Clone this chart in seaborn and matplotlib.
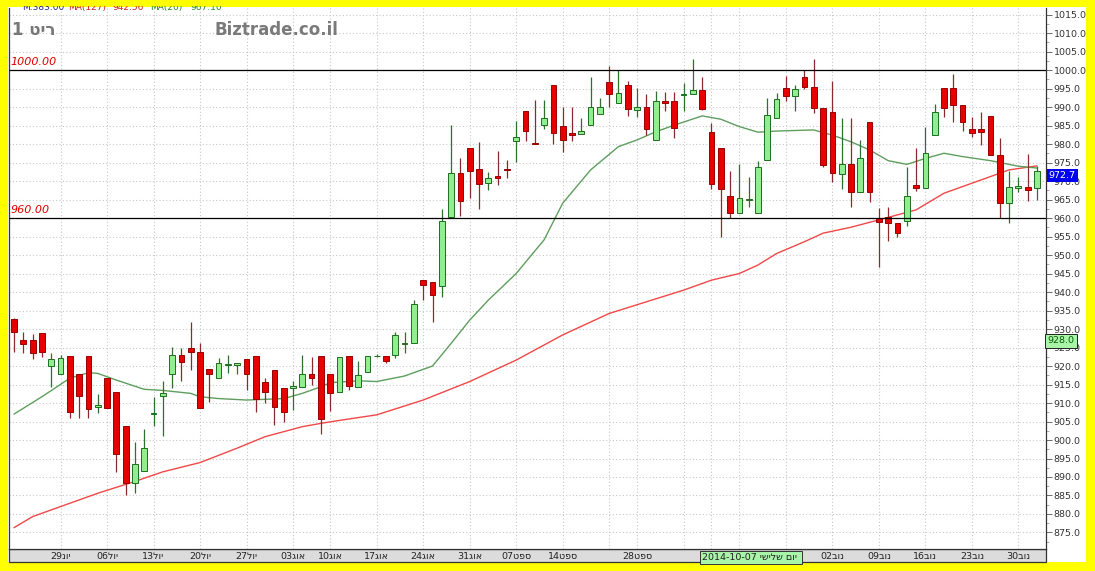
import matplotlib
matplotlib.use("Agg")
import pandas as pd
import matplotlib.pyplot as plt
from matplotlib.patches import Rectangle
from matplotlib.ticker import MultipleLocator
import seaborn as sns

# daily candles (oldest first)
opens = [932.7, 927.0, 927.0, 928.8, 920.1, 917.8, 922.8, 917.8, 922.8, 909.0,
         916.7, 912.9, 903.9, 888.3, 891.7, 907.0, 911.9, 917.8, 922.9, 924.8,
         923.9, 919.1, 916.7, 920.3, 920.2, 921.9, 922.7, 915.8, 918.9, 914.0,
         914.0, 914.4, 917.8, 922.8, 917.8, 912.9, 922.8, 914.4, 918.3, 922.6,
         922.7, 923.0, 926.0, 926.1, 943.2, 942.6, 941.6, 960.4, 972.1, 979.0,
         973.2, 969.5, 971.4, 973.3, 980.9, 989.0, 980.3, 985.1, 996.0, 984.9,
         982.9, 982.6, 985.1, 988.1, 996.7, 991.0, 996.0, 989.2, 990.1, 981.1,
         991.6, 991.6, 993.2, 993.4, 994.6, 983.2, 979.0, 966.0, 961.3, 964.9,
         961.4, 975.7, 987.1, 995.1, 993.0, 998.0, 995.5, 989.8, 988.7, 971.8,
         974.5, 966.9, 986.0, 959.9, 960.4, 958.6, 959.3, 968.9, 968.0, 982.4,
         995.1, 995.1, 990.5, 984.0, 984.0, 987.6, 977.0, 964.0, 968.0, 968.5,
         968.0]
highs = [933.0, 929.2, 928.6, 928.8, 923.4, 923.0, 922.8, 917.8, 922.8, 912.4,
         916.7, 912.9, 903.9, 899.5, 902.9, 911.5, 916.0, 925.2, 924.8, 932.0,
         926.1, 919.1, 922.1, 923.0, 920.9, 921.9, 922.7, 916.7, 918.9, 914.0,
         916.0, 922.9, 922.5, 922.8, 917.8, 922.3, 922.8, 921.4, 922.7, 923.3,
         922.7, 929.1, 929.3, 937.8, 943.2, 942.6, 962.4, 985.1, 976.1, 979.0,
         980.5, 972.5, 978.1, 975.7, 986.2, 989.0, 991.9, 991.9, 996.0, 989.9,
         989.9, 986.9, 998.0, 992.3, 1001.1, 1000.0, 997.1, 995.1, 993.5, 994.4,
         994.1, 994.1, 996.4, 1003.0, 998.0, 985.8, 979.0, 972.8, 974.6, 971.0,
         975.5, 992.3, 993.7, 998.4, 996.0, 1000.0, 1002.9, 989.8, 997.0, 986.9,
         986.9, 981.1, 986.0, 962.6, 962.9, 958.6, 973.9, 978.8, 984.7, 990.8,
         995.1, 998.9, 990.5, 987.2, 988.7, 987.6, 981.5, 972.8, 971.0, 977.3,
         974.1]
lows = [923.8, 923.5, 921.9, 922.5, 914.4, 917.8, 906.0, 905.9, 905.9, 907.3,
        908.6, 891.4, 885.1, 885.6, 891.7, 903.8, 901.2, 914.0, 916.0, 918.9,
        908.6, 910.2, 916.7, 918.2, 917.8, 913.5, 907.5, 909.9, 904.1, 905.0,
        908.1, 914.4, 914.9, 901.6, 907.9, 912.9, 913.5, 914.4, 918.3, 922.5,
        920.9, 922.1, 923.4, 926.1, 937.8, 931.8, 938.7, 960.4, 960.5, 965.3,
        962.4, 967.6, 968.9, 970.7, 975.1, 980.8, 979.9, 984.0, 980.0, 977.9,
        980.8, 982.6, 985.1, 988.1, 990.1, 991.0, 987.6, 987.2, 982.4, 981.1,
        988.9, 981.5, 988.9, 993.4, 989.2, 967.8, 954.8, 959.9, 961.3, 963.1,
        961.4, 975.7, 987.1, 991.7, 988.9, 994.9, 988.3, 973.9, 969.8, 967.8,
        963.1, 966.9, 964.4, 946.7, 953.8, 955.0, 957.8, 967.4, 968.0, 982.4,
        987.2, 986.0, 983.6, 981.8, 979.7, 977.0, 959.9, 958.7, 967.1, 964.7,
        964.9]
closes = [929.2, 925.9, 923.4, 923.9, 921.8, 922.1, 907.5, 912.0, 908.4, 909.4,
          908.6, 896.2, 888.3, 893.4, 897.8, 907.4, 912.8, 922.9, 921.2, 923.9,
          908.6, 917.8, 920.7, 920.5, 920.9, 917.8, 911.0, 912.9, 908.8, 907.7,
          914.5, 917.8, 916.8, 905.7, 912.6, 922.3, 914.7, 917.6, 922.7, 922.7,
          921.4, 928.4, 926.3, 936.8, 941.9, 939.2, 959.3, 972.1, 964.6, 972.8,
          969.2, 970.9, 970.7, 973.1, 982.0, 983.5, 979.9, 987.0, 982.9, 981.1,
          982.3, 983.6, 989.9, 990.1, 993.4, 993.9, 989.4, 990.1, 984.0, 991.6,
          991.0, 984.4, 993.4, 994.6, 989.5, 969.1, 967.8, 961.4, 965.3, 965.1,
          973.7, 987.8, 992.1, 993.0, 994.8, 995.5, 989.8, 974.3, 972.1, 974.5,
          966.9, 976.1, 966.9, 959.0, 958.6, 956.0, 966.0, 968.0, 977.5, 988.7,
          989.8, 990.5, 986.0, 983.1, 983.3, 977.0, 964.0, 968.3, 968.6, 967.6,
          972.7]

# moving averages (candle index, value)
ma_fast_idx = [0, 3, 6, 8, 9, 11, 14, 16, 19, 20, 22, 25, 29, 31, 33, 34, 37, 39,
               42, 45, 47, 49, 51, 54, 57, 59, 62, 65, 67, 69, 71, 74, 76, 78, 80,
               82, 86, 88, 90, 92, 94, 96, 98, 100, 102, 105, 106, 108, 110]
ma_fast_val = [907.0, 911.7, 916.7, 918.2, 918.0, 916.2, 913.7, 913.4, 912.6, 911.7,
               911.2, 910.8, 911.2, 912.6, 914.4, 915.5, 916.0, 915.8, 917.3, 920.0,
               926.1, 932.4, 937.8, 945.0, 954.1, 964.0, 973.0, 979.3, 981.1, 983.3,
               985.1, 987.6, 986.7, 984.7, 983.2, 983.5, 983.8, 982.4, 980.6, 978.4,
               975.5, 974.5, 976.1, 977.5, 976.6, 975.5, 975.0, 974.0, 973.5]
ma_slow_idx = [0, 2, 6, 9, 13, 16, 20, 24, 27, 31, 33, 35, 39, 44, 49, 54, 59, 64,
               72, 75, 78, 80, 82, 85, 87, 90, 93, 97, 100, 104, 107, 110]
ma_slow_val = [876.3, 879.3, 882.9, 885.6, 888.8, 891.4, 893.9, 897.8, 900.9, 903.6,
               904.5, 905.3, 906.8, 910.8, 915.8, 921.6, 928.4, 934.2, 940.5, 943.2,
               945.0, 947.3, 950.4, 953.6, 955.9, 957.5, 959.5, 962.2, 966.7, 970.3,
               973.0, 974.1]

# weekly date grid (visual order, the renderer has no bidi)
tick_idx = [5, 10, 15, 20, 25, 30, 34, 39, 44, 49, 54, 59, 64, 67, 72, 75, 78, 83,
            88, 93, 98, 103, 108]
tick_labels = ["29נוי", "06לוי", "13לוי", "20לוי", "27לוי", "03גוא", "10גוא",
               "17גוא", "24גוא", "31גוא", "07טפס", "14טפס", "", "28טפס", "", "", "",
               "", "02בונ", "09בונ", "16בונ", "23בונ", "30בונ"]

levels = [1000, 960]
last_price = 972.7
cursor_price = 928.0
cursor_idx = 73.8

# header strip (partly hidden under the frame)
header_parts = ["M:383.00", "MA(127)", "942.56", "MA(20)", "967.10"]
header_colors = ["#2A2A8A", "#D02020", "#D02020", "#2A8A2A", "#2A8A2A"]
header_x = [22, 68, 112, 150, 190]

df = pd.DataFrame({"open": opens, "high": highs, "low": lows, "close": closes})
df["idx"] = range(len(df))
df["up"] = df["close"] >= df["open"]
df["bottom"] = df[["open", "close"]].min(axis=1)
df["height"] = (df["close"] - df["open"]).abs()

sns.set_style("white")
plt.rcParams["font.family"] = ["DejaVu Sans"]

fig = plt.figure(figsize=(10.95, 5.71), dpi=100, facecolor="#FFFF00")
W, H = 1095.0, 571.0
# white panel and the grey date strip
fig.patches.append(Rectangle((8 / W, 9 / H), 1078 / W, 555 / H, transform=fig.transFigure,
                             facecolor="white", edgecolor="none", zorder=0))
fig.patches.append(Rectangle((8.5 / W, 9 / H), 1037.5 / W, 13 / H, transform=fig.transFigure,
                             facecolor="#DCDCDC", edgecolor="#333333", linewidth=0.9, zorder=1))

ax = fig.add_axes([9 / W, 22 / H, 1037 / W, 541 / H])
ax.set_facecolor("white")
ax.set_zorder(2)

# grid
for y in range(875, 1020, 5):
    ax.axhline(y, color="#C8C8C8", linestyle=(0, (1, 2)), linewidth=0.8, zorder=0)
for t in tick_idx:
    ax.axvline(t, color="#C8C8C8", linestyle=(0, (1, 2)), linewidth=0.8, zorder=0)

# moving averages
sns.lineplot(x=ma_slow_idx, y=ma_slow_val, ax=ax, color="#F04848", linewidth=1.0, zorder=1)
sns.lineplot(x=ma_fast_idx, y=ma_fast_val, ax=ax, color="#5E9E5E", linewidth=1.0, zorder=1)

# candles
wick_col = ["#2E6E2E" if u else "#8A2A2A" for u in df["up"]]
fill_col = ["#90EE90" if u else "#E60000" for u in df["up"]]
edge_col = ["#1E6E1E" if u else "#9A0000" for u in df["up"]]
ax.vlines(df["idx"], df["low"], df["high"], colors=wick_col, linewidth=0.9, zorder=2)
ax.bar(df["idx"], df["height"], bottom=df["bottom"], width=0.62, color=fill_col,
       edgecolor=edge_col, linewidth=0.7, zorder=3)

# support / resistance lines
for lv in levels:
    ax.axhline(lv, color="black", linewidth=0.9, zorder=4)
    ax.text(-0.35, lv + 0.9, f"{lv:.2f}", color="#DD0000", fontsize=8, style="italic",
            ha="left", va="bottom", zorder=5)

ax.set_xlim(-0.54, 110.97)
ax.set_ylim(870.54, 1016.76)

ax.set_xticks(tick_idx)
ax.set_xticklabels(tick_labels, fontsize=6.8, color="#222222")
ax.tick_params(axis="x", length=0, pad=2.5)

ax.yaxis.tick_right()
ax.set_yticks(range(875, 1020, 5))
ax.set_yticklabels([f"{v:.1f}" for v in range(875, 1020, 5)], fontsize=6.8, color="#333333")
ax.yaxis.set_minor_locator(MultipleLocator(2.5))
ax.tick_params(axis="y", which="major", length=4, width=0.6, color="#555555", pad=1.5)
ax.tick_params(axis="y", which="minor", length=2, width=0.5, color="#888888")
ax.set_xlabel("")
ax.set_ylabel("")

ax.spines["top"].set_visible(False)
for side in ["left", "right", "bottom"]:
    ax.spines[side].set_color("#333333")
    ax.spines[side].set_linewidth(0.9)

# right-hand price tags
ax.annotate(f"{last_price:.1f}", xy=(1.0, last_price), xycoords=("axes fraction", "data"),
            xytext=(2, 0), textcoords="offset points", ha="left", va="top",
            fontsize=6.8, color="white", annotation_clip=False, zorder=6,
            bbox=dict(boxstyle="square,pad=0.2", facecolor="#0000EE", edgecolor="none"))
ax.annotate(f"{cursor_price:.1f}", xy=(1.0, cursor_price), xycoords=("axes fraction", "data"),
            xytext=(1, 0), textcoords="offset points", ha="left", va="top",
            fontsize=6.8, color="#0A5A0A", annotation_clip=False, zorder=6,
            bbox=dict(boxstyle="square,pad=0.25", facecolor="#A8F5A8", edgecolor="#222222",
                      linewidth=0.7))

# cursor date tag on the time axis
ax.annotate("2014-10-07 ישילש םוי ", xy=(cursor_idx, 0), xycoords=("data", "axes fraction"),
            xytext=(1, -3), textcoords="offset points", ha="left", va="top",
            fontsize=6.8, color="#222222", annotation_clip=False,
            bbox=dict(boxstyle="square,pad=0.2", facecolor="#A8F5A8", edgecolor="#333333",
                      linewidth=0.7))

# titles
fig.text(12 / W, 1 - 30 / H, "1 טיר", fontsize=12, fontweight="bold", color="#777777",
         ha="left", va="center", zorder=5)
fig.text(215 / W, 1 - 30 / H, "Biztrade.co.il", fontsize=12, fontweight="bold",
         color="#7A7A7A", ha="left", va="center", zorder=5)

for txt, col, xp in zip(header_parts, header_colors, header_x):
    fig.text(xp / W, 1 - 3 / H, txt, fontsize=6.5, color=col, ha="left", va="top", zorder=3)
fig.patches.append(Rectangle((0, 1 - 6 / H), 1, 6 / H, transform=fig.transFigure,
                             facecolor="#FFFF00", edgecolor="none", zorder=4))

fig.savefig("out.png", dpi=100, facecolor=fig.get_facecolor())
plt.close(fig)
